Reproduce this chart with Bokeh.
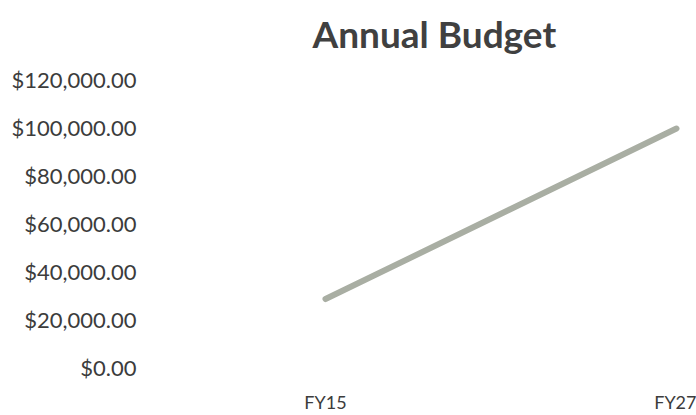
from bokeh.plotting import figure
from bokeh.models import Range1d, FixedTicker, NumeralTickFormatter
from bokeh.embed import file_html
from bokeh.resources import INLINE

title_text = "Annual Budget"
categories = ["FY15", "FY27"]
budget = [28500, 99500]
y_ticks = [0, 20000, 40000, 60000, 80000, 100000, 120000]

xs = list(range(len(categories)))

p = figure(width=696, height=415, output_backend="svg", toolbar_location=None,
           x_range=Range1d(-0.5128, 1.0285), y_range=Range1d(0, 127010),
           min_border_left=145, min_border_right=10, min_border_top=62, min_border_bottom=45)
p.title.text = title_text
p.title.align = "left"
p.title.offset = 167
p.title.standoff = 14
p.title.text_font = "Lato"
p.title.text_font_size = "37px"
p.title.text_font_style = "bold"
p.title.text_color = "#404040"

p.line(xs, budget, line_color="#a9aea3", line_width=6, line_cap="round")

p.xaxis.ticker = FixedTicker(ticks=xs)
p.xaxis.major_label_overrides = {i: c for i, c in enumerate(categories)}
p.yaxis.ticker = FixedTicker(ticks=y_ticks)
p.yaxis.formatter = NumeralTickFormatter(format="$0,0.00")

for ax in (p.xaxis, p.yaxis):
    ax.axis_line_color = None
    ax.major_tick_line_color = None
    ax.minor_tick_line_color = None
    ax.major_tick_out = 0
    ax.major_tick_in = 0
    ax.minor_tick_out = 0
    ax.minor_tick_in = 0
    ax.major_label_text_font = "Lato"
    ax.major_label_text_color = "#3c3c3c"
p.yaxis.major_label_text_font_size = "22px"
p.xaxis.major_label_text_font_size = "18px"
p.yaxis.major_label_standoff = 9
p.xaxis.major_label_standoff = 23

p.xgrid.grid_line_color = None
p.ygrid.grid_line_color = None
p.outline_line_color = None

open("out.html", "w").write(file_html(p, INLINE))
